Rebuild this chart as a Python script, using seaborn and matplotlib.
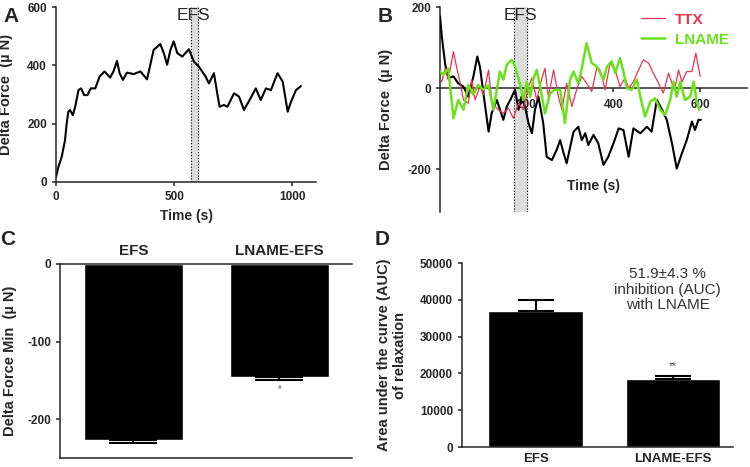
import numpy as np
import pandas as pd
import matplotlib
matplotlib.use('Agg')
import matplotlib.pyplot as plt
import seaborn as sns

# Panel A - single EFS trace
a_time = [0, 10, 24, 38, 45, 52, 59, 71, 81, 95, 106, 119, 133, 147, 166, 184, 205, 229, 243,
          258, 269, 283, 300, 328, 357, 385, 413, 441, 456, 470, 484, 498, 513, 534, 562, 583,
          604, 633, 647, 668, 682, 692, 710, 725, 753, 774, 795, 823, 845, 866, 888, 909, 937,
          959, 980, 994, 1015, 1036]
a_force = [17, 52, 86, 143, 200, 241, 247, 229, 258, 315, 321, 298, 298, 321, 321, 361, 379, 358,
           379, 415, 373, 350, 375, 370, 379, 352, 453, 473, 442, 402, 453, 482, 442, 430, 455,
           413, 396, 361, 338, 373, 304, 258, 264, 258, 304, 293, 247, 287, 321, 281, 321, 315,
           373, 344, 241, 275, 315, 329]

# Panel B - control (black), TTX (red), LNAME (green)
b_ctrl_t = [0, 4, 12, 19, 31, 42, 54, 65, 77, 86, 92, 100, 112, 119, 131, 146, 154, 162, 173,
            181, 188, 196, 204, 212, 219, 227, 238, 246, 258, 269, 277, 285, 292, 308, 319, 327,
            335, 342, 354, 365, 377, 388, 400, 412, 423, 435, 446, 462, 477, 488, 500, 512, 523,
            535, 546, 558, 569, 581, 588, 596, 602]
b_ctrl_f = [177, 128, 58, 25, 29, 12, 4, -21, 29, 78, 53, -12, -107, -62, -29, -78, -45, -29,
            -4, -53, -21, -45, -86, -111, -53, -21, -86, -169, -177, -152, -128, -160, -185,
            -107, -95, -128, -111, -140, -115, -136, -189, -169, -136, -99, -103, -169, -99,
            -111, -95, -107, -29, -53, -78, -136, -198, -160, -128, -82, -103, -78, -78]
b_ttx_t = [0, 4, 12, 19, 31, 38, 46, 54, 65, 73, 81, 92, 100, 112, 119, 127, 135, 146, 158,
           169, 181, 192, 204, 212, 223, 235, 242, 250, 262, 273, 281, 292, 304, 315, 327, 338,
           350, 362, 369, 381, 392, 404, 415, 427, 435, 446, 458, 469, 481, 492, 504, 515, 527,
           535, 542, 550, 558, 569, 581, 590, 600]
b_ttx_f = [21, 16, 49, 21, 90, 53, 16, -29, -37, 21, -29, 4, -16, 45, -29, -45, -53, -62, -49,
           -74, -37, -53, 4, 25, -29, 25, 49, -21, 45, -21, -53, 12, -45, -4, 29, 12, -8, 53,
           45, -4, 62, 45, 4, 25, 0, 16, 45, 70, 62, 37, 12, -12, 37, 12, 0, 45, 16, 41, 41,
           86, 29]
b_lname_t = [0, 8, 19, 31, 42, 54, 65, 77, 88, 100, 112, 123, 131, 138, 146, 154, 165, 173,
             185, 192, 200, 208, 215, 223, 231, 242, 254, 265, 277, 288, 300, 308, 319, 327,
             338, 350, 362, 377, 385, 396, 404, 415, 423, 431, 442, 454, 462, 473, 485, 496,
             508, 519, 531, 538, 546, 554, 565, 577, 585, 592, 598]
b_lname_f = [41, 33, 49, -74, -29, -53, 8, -16, 8, -4, 8, -53, -4, 41, 21, 58, 70, 53, 8, -29,
             16, -21, 21, 45, 4, -62, -12, -4, -4, -86, 21, 41, 12, 49, 111, 62, 53, 21, 53, 66,
             37, 74, 41, 0, -4, 21, -21, -70, -33, -25, -53, -66, -29, 16, -21, 16, -29, -21,
             16, -33, -53]

# Panels C and D - bar summaries
groups = ['EFS', 'LNAME-EFS']
min_force = [-227, -146]
min_force_err = [4, 4]
auc = [37000, 18500]
auc_err = [2900, 900]

sns.set_style('ticks')
plt.rcParams['font.family'] = ['Liberation Sans', 'DejaVu Sans']
plt.rcParams['axes.linewidth'] = 1.1
plt.rcParams['axes.unicode_minus'] = False

fig = plt.figure(figsize=(7.5, 4.67), dpi=100)

tick_kw = dict(labelsize=8.5, width=1.1, length=3, direction='out')
lab_kw = dict(fontsize=10.5, fontweight='bold')


def bold_ticks(ax):
    for t in ax.get_xticklabels() + ax.get_yticklabels():
        t.set_fontweight('bold')


# ---- A ----
axA = fig.add_axes([0.0747, 0.6103, 0.3467, 0.3747])
axA.axvspan(570, 600, color='#dcdcdc', zorder=0)
for xv in (570, 600):
    axA.axvline(xv, color='black', ls=':', lw=0.8, zorder=1)
sns.lineplot(x=a_time, y=a_force, ax=axA, color='black', lw=1.5)
axA.set_xlim(0, 1100)
axA.set_ylim(0, 600)
axA.set_xticks([0, 500, 1000])
axA.set_yticks([0, 200, 400, 600])
axA.tick_params(**tick_kw)
axA.set_xlabel('Time (s)', fontsize=10, fontweight='bold')
axA.set_ylabel('Delta Force  (µ N)', **lab_kw)
axA.yaxis.set_label_coords(-0.165, 0.5)
axA.text(582, 597, 'EFS', ha='center', va='top', fontsize=12.5)
sns.despine(ax=axA)
bold_ticks(axA)

# ---- B ----
axB = fig.add_axes([0.5867, 0.546, 0.4093, 0.439])
axB.axvspan(170, 200, color='#dcdcdc', zorder=0)
for xv in (170, 200):
    axB.axvline(xv, color='black', ls=':', lw=0.8, zorder=1)
sns.lineplot(x=b_ctrl_t, y=b_ctrl_f, ax=axB, color='black', lw=1.5, zorder=3)
sns.lineplot(x=b_ttx_t, y=b_ttx_f, ax=axB, color='#e8334f', lw=0.9, label='TTX', zorder=3)
sns.lineplot(x=b_lname_t, y=b_lname_f, ax=axB, color='#6be11c', lw=1.8, label='LNAME', zorder=3)
axB.set_xlim(0, 708)
axB.set_ylim(-305, 200)
axB.set_xticks([200, 400, 600])
axB.set_yticks([-200, 0, 200])
axB.spines['bottom'].set_position(('data', 0))
axB.spines['bottom'].set_zorder(2.5)
axB.tick_params(**tick_kw)
axB.tick_params(axis='x', pad=5)
axB.set_xlabel('Time (s)', fontsize=10, fontweight='bold')
axB.xaxis.set_label_coords(0.5, 0.16)
axB.set_ylabel('Delta Force  (µ N)', **lab_kw)
axB.yaxis.set_label_coords(-0.153, 0.5)
axB.text(185, 198, 'EFS', ha='center', va='top', fontsize=12.5)
sns.despine(ax=axB)
leg = axB.legend(loc='upper right', bbox_to_anchor=(0.985, 1.04), frameon=False,
                 handlelength=1.6, handletextpad=0.6, labelspacing=0.4,
                 prop={'weight': 'bold', 'size': 11}, labelcolor='linecolor')
bold_ticks(axB)

# ---- C ----
axC = fig.add_axes([0.08, 0.0193, 0.3893, 0.4154])
dfC = pd.DataFrame({'group': groups, 'value': min_force})
sns.barplot(data=dfC, x='group', y='value', ax=axC, color='black', saturation=1,
            width=0.68, errorbar=None)
axC.errorbar([0, 1], min_force, yerr=[min_force_err, [0, 0]], fmt='none',
             ecolor='black', elinewidth=1.5, capsize=17, capthick=1.5)
axC.set_xlim(-0.503, 1.497)
axC.set_ylim(-250, 0)
axC.set_yticks([-200, -100, 0])
axC.xaxis.tick_top()
axC.tick_params(**tick_kw)
axC.tick_params(axis='x', length=0, labelsize=11, pad=4)
axC.set_xlabel('')
axC.set_ylabel('Delta Force Min  (µ N)', **lab_kw)
axC.yaxis.set_label_coords(-0.147, 0.5)
axC.spines['right'].set_visible(False)
axC.text(1, -161, '*', ha='center', va='center', fontsize=7, color='#555555')
bold_ticks(axC)

# ---- D ----
axD = fig.add_axes([0.616, 0.0428, 0.3613, 0.394])
dfD = pd.DataFrame({'group': groups, 'value': auc})
sns.barplot(data=dfD, x='group', y='value', ax=axD, color='black', saturation=1,
            width=0.69, errorbar=None)
axD.errorbar([0, 1], auc, yerr=[[0, 0], auc_err], fmt='none',
             ecolor='black', elinewidth=1.5, capsize=13, capthick=1.5)
axD.set_xlim(-0.535, 1.436)
axD.set_ylim(0, 50000)
axD.set_yticks(np.arange(0, 50001, 10000))
axD.tick_params(**tick_kw)
axD.tick_params(axis='x', length=0, labelsize=9.5, pad=4)
axD.set_xlabel('')
axD.set_ylabel('Area under the curve (AUC)\nof relaxation', **lab_kw)
axD.yaxis.set_label_coords(-0.203, 0.5)
axD.text(1, 22000, '**', ha='center', va='center', fontsize=7, color='#555555')
axD.text(0.96, 42800, '51.9±4.3 %\ninhibition (AUC)\nwith LNAME', ha='center',
         va='center', fontsize=11, color='#333333', linespacing=1.1)
sns.despine(ax=axD)
bold_ticks(axD)

# panel letters
for lbl, x, y in [('A', 0.004, 0.985), ('B', 0.503, 0.985), ('C', 0.0, 0.507), ('D', 0.5, 0.507)]:
    fig.text(x, y, lbl, fontsize=15, fontweight='bold', va='top', ha='left')

fig.savefig('out.png', dpi=100)
